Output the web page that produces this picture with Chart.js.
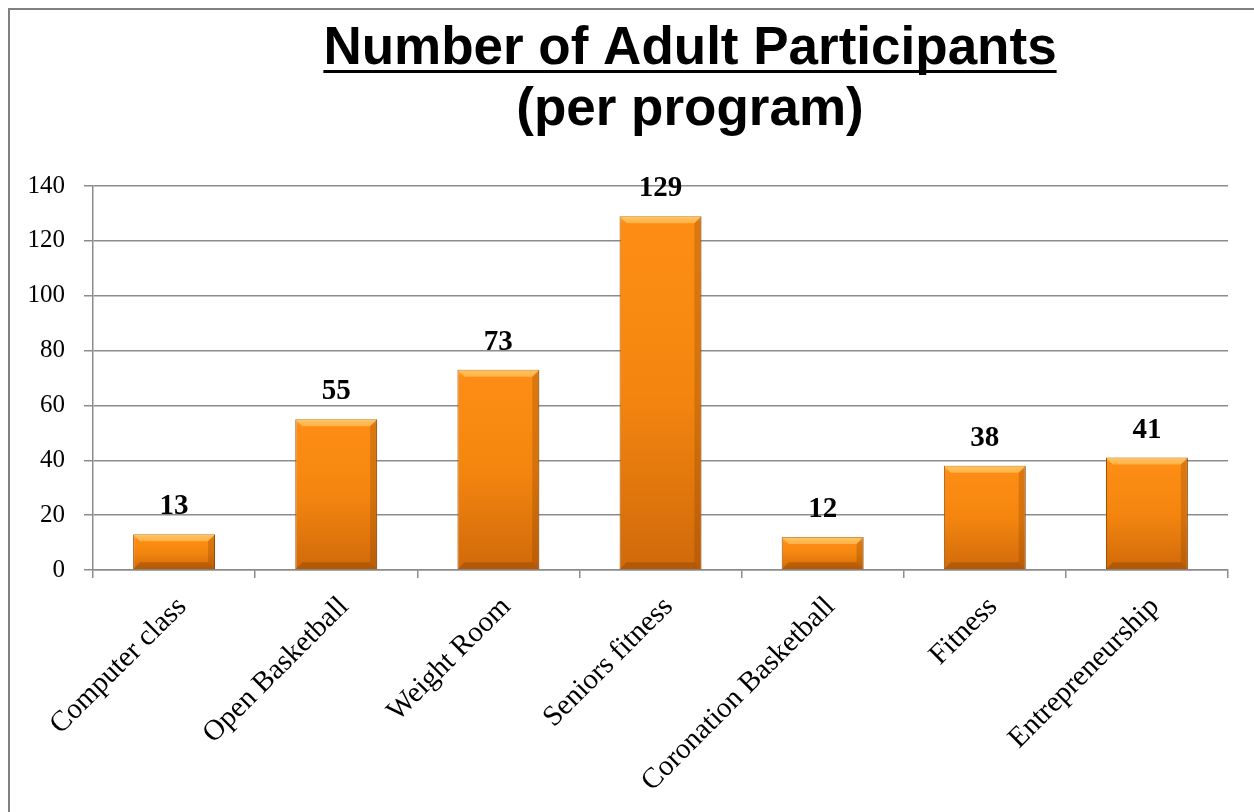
<!DOCTYPE html>
<html>
<head>
<meta charset="utf-8">
<title>Number of Adult Participants</title>
<script src="https://cdn.jsdelivr.net/npm/chart.js@4.4.0/dist/chart.umd.min.js"></script>
<style>
  html, body { margin: 0; padding: 0; background: #fff; }
  #chart { display: block; }
</style>
</head>
<body>
<canvas id="chart" width="1254" height="812"></canvas>
<script>
// chart data
const programs = ['Computer class', 'Open Basketball', 'Weight Room', 'Seniors fitness',
                  'Coronation Basketball', 'Fitness', 'Entrepreneurship'];
const participants = [13, 55, 73, 129, 12, 38, 41];
const titleLines = ['Number of Adult Participants', '(per program)'];
const yTicks = [0, 20, 40, 60, 80, 100, 120, 140];

const gridGray = '#8c8c8c';

// orange bar fill, darker toward the bottom of each bar
function barFill(context) {
    const chart = context.chart;
    const y = chart.scales.y;
    if (!y || context.raw == null) return '#f58a12';
    const top = y.getPixelForValue(context.raw);
    const base = y.getPixelForValue(0);
    if (!isFinite(top) || !isFinite(base) || base - top < 1) return '#f58a12';
    const g = chart.ctx.createLinearGradient(0, top, 0, base);
    g.addColorStop(0, '#ffb046');
    g.addColorStop(Math.min(0.4, 6 / (base - top)), '#fd8d14');
    g.addColorStop(0.5, '#f4860f');
    g.addColorStop(1, '#d0690a');
    return g;
}

// frame, title, bevel and value labels
const decorations = {
    id: 'decorations',
    beforeDraw(chart) {
        const ctx = chart.ctx;
        ctx.save();
        ctx.fillStyle = '#fff';
        ctx.fillRect(0, 0, chart.width, chart.height);
        ctx.strokeStyle = '#808080';
        ctx.lineWidth = 2;
        ctx.beginPath();
        ctx.moveTo(9, chart.height);
        ctx.lineTo(9, 9);
        ctx.lineTo(chart.width, 9);
        ctx.stroke();
        ctx.restore();
    },
    afterDatasetsDraw(chart) {
        const ctx = chart.ctx;
        const meta = chart.getDatasetMeta(0);
        ctx.save();
        meta.data.forEach((bar, i) => {
            const half = bar.width / 2;
            const left = bar.x - half, right = bar.x + half;
            const top = bar.y, base = bar.base;
            const b = Math.min(7, (base - top) / 3);
            // top highlight
            ctx.fillStyle = 'rgba(255, 214, 120, 0.55)';
            ctx.beginPath();
            ctx.moveTo(left, top); ctx.lineTo(right, top);
            ctx.lineTo(right - b, top + b); ctx.lineTo(left + b, top + b);
            ctx.closePath(); ctx.fill();
            // right shade
            ctx.fillStyle = 'rgba(120, 55, 0, 0.25)';
            ctx.beginPath();
            ctx.moveTo(right, top); ctx.lineTo(right, base);
            ctx.lineTo(right - b, base - b); ctx.lineTo(right - b, top + b);
            ctx.closePath(); ctx.fill();
            // bottom shade
            ctx.fillStyle = 'rgba(110, 50, 0, 0.3)';
            ctx.beginPath();
            ctx.moveTo(left, base); ctx.lineTo(right, base);
            ctx.lineTo(right - b, base - b); ctx.lineTo(left + b, base - b);
            ctx.closePath(); ctx.fill();
            // value label
            ctx.fillStyle = '#000';
            ctx.font = 'bold 29px "Liberation Serif", serif';
            ctx.textAlign = 'center';
            ctx.textBaseline = 'alphabetic';
            ctx.fillText(String(participants[i]), bar.x, top - 20);
        });
        ctx.restore();
    },
    afterDraw(chart) {
        const ctx = chart.ctx;
        ctx.save();
        ctx.fillStyle = '#000';
        ctx.font = 'bold 53px "Liberation Sans", Arial, sans-serif';
        ctx.textAlign = 'center';
        ctx.textBaseline = 'alphabetic';
        const cx = 690;
        ctx.fillText(titleLines[0], cx, 64);
        const w = ctx.measureText(titleLines[0]).width;
        ctx.fillRect(cx - w / 2, 70, w, 3);
        ctx.fillText(titleLines[1], cx, 125);
        ctx.restore();
    }
};

const ctx = document.getElementById('chart').getContext('2d');
const participantsChart = new Chart(ctx, {
    type: 'bar',
    data: {
        labels: programs,
        datasets: [{
            label: 'Participants',
            data: participants,
            backgroundColor: barFill,
            borderColor: '#9a4f08',
            borderWidth: 1,
            barPercentage: 0.505,
            categoryPercentage: 1,
        }],
    },
    options: {
        responsive: false,
        animation: false,
        layout: {
            padding: { top: 186, right: 26, left: 0, bottom: 0 },
        },
        plugins: {
            legend: { display: false },
            title: { display: false },
            tooltip: { enabled: false },
        },
        scales: {
            x: {
                offset: true,
                grid: {
                    offset: true,
                    drawOnChartArea: false,
                    drawTicks: true,
                    tickLength: 8,
                    color: gridGray,
                    lineWidth: 1.5,
                },
                border: { display: true, color: gridGray, width: 1.5 },
                ticks: {
                    color: '#000',
                    font: { family: '"Liberation Serif", serif', size: 29 },
                    minRotation: 45,
                    maxRotation: 45,
                    padding: 12,
                    labelOffset: 8,
                    autoSkip: false,
                },
                afterFit(scale) { scale.height = 242; },
            },
            y: {
                min: 0,
                max: 140,
                afterBuildTicks(scale) { scale.ticks = yTicks.map(v => ({ value: v })); },
                grid: {
                    color: gridGray,
                    lineWidth: 1.5,
                    tickLength: 9,
                },
                border: { display: true, color: gridGray, width: 1.5 },
                ticks: {
                    color: '#000',
                    font: { family: '"Liberation Serif", serif', size: 25 },
                    padding: 19,
                },
                afterFit(scale) { scale.width = 93; },
            },
        },
    },
    plugins: [decorations],
});
</script>
</body>
</html>
